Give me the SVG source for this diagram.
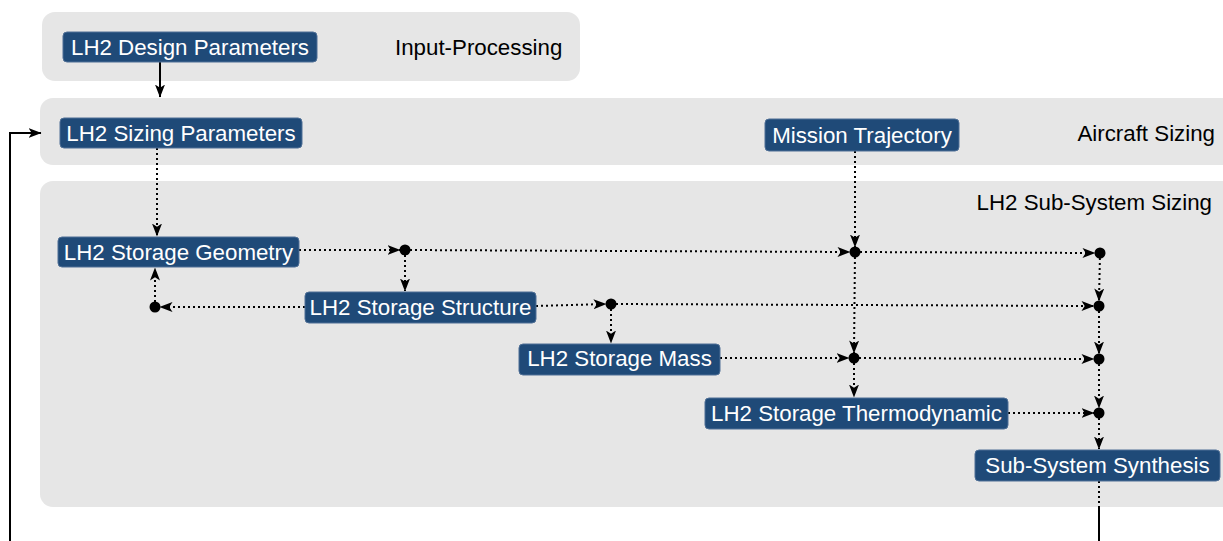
<svg xmlns="http://www.w3.org/2000/svg" width="1223" height="541" viewBox="0 0 1223 541">
<defs>
<style>
.cont{fill:#e6e6e6;}
.node{fill:#1f4a78;stroke:#4f6f96;stroke-width:1;}
.nt{font-family:"Liberation Sans",Arial,sans-serif;font-size:22.3px;fill:#ffffff;text-anchor:middle;dominant-baseline:central;}
.ct{font-family:"Liberation Sans",Arial,sans-serif;font-size:22.3px;fill:#000000;dominant-baseline:central;}
.dot{stroke:#000;stroke-width:2;fill:none;stroke-dasharray:2 3;}
.sol{stroke:#000;stroke-width:2;fill:none;}
.jn{fill:#000;}
</style>
<marker id="ah" viewBox="0 0 13 11" refX="12.5" refY="5.5" markerWidth="13" markerHeight="11" markerUnits="userSpaceOnUse" orient="auto">
<path d="M0,0.5 L13,5.5 L0,10.5 L3.2,5.5 Z" fill="#000"/>
</marker>
</defs>
<g id="containers">
<g id="input-processing"><rect class="cont" x="42" y="12" width="538" height="69" rx="13"/><text class="ct" x="395" y="47">Input-Processing</text></g>
<g id="aircraft-sizing"><rect class="cont" x="40" y="98" width="1200" height="67" rx="13"/><text class="ct" x="1215" y="133" text-anchor="end">Aircraft Sizing</text></g>
<g id="subsystem-sizing"><rect class="cont" x="40" y="181" width="1200" height="326" rx="13"/><text class="ct" x="1212" y="202" text-anchor="end">LH2 Sub-System Sizing</text></g>
</g>
<g id="connectors">
<path class="sol" d="M160,62 V97" marker-end="url(#ah)"/>
<path class="sol" d="M1099,507 V560 H10 V133 H41" marker-end="url(#ah)"/>
<path class="dot" d="M1099,481 V507"/>
<path class="dot" d="M157,148 V236" marker-end="url(#ah)"/>
<path class="dot" d="M299,250 H400" marker-end="url(#ah)"/>
<path class="dot" d="M405,250 L850,252" marker-end="url(#ah)"/>
<path class="dot" d="M855,252 L1095,253" marker-end="url(#ah)"/>
<path class="dot" d="M855,151 V247" marker-end="url(#ah)"/>
<path class="dot" d="M405,250 V291" marker-end="url(#ah)"/>
<path class="dot" d="M305,307 H160" marker-end="url(#ah)"/>
<path class="dot" d="M155,307 V268" marker-end="url(#ah)"/>
<path class="dot" d="M536,306 L606,304" marker-end="url(#ah)"/>
<path class="dot" d="M611,304 L1094,306" marker-end="url(#ah)"/>
<path class="dot" d="M611,304 V343" marker-end="url(#ah)"/>
<path class="dot" d="M1100,253 L1099,301" marker-end="url(#ah)"/>
<path class="dot" d="M855,252 L854,353" marker-end="url(#ah)"/>
<path class="dot" d="M720,358 H849" marker-end="url(#ah)"/>
<path class="dot" d="M854,358 L1094,359" marker-end="url(#ah)"/>
<path class="dot" d="M854,358 V397" marker-end="url(#ah)"/>
<path class="dot" d="M1099,306 V354" marker-end="url(#ah)"/>
<path class="dot" d="M1099,359 V408" marker-end="url(#ah)"/>
<path class="dot" d="M1008,413 H1094" marker-end="url(#ah)"/>
<path class="dot" d="M1099,413 V449" marker-end="url(#ah)"/>
<circle class="jn" cx="405" cy="250" r="5.5"/>
<circle class="jn" cx="855" cy="252" r="5.5"/>
<circle class="jn" cx="1100" cy="253" r="5.5"/>
<circle class="jn" cx="155" cy="307" r="5.5"/>
<circle class="jn" cx="611" cy="304" r="5.5"/>
<circle class="jn" cx="1099" cy="306" r="5.5"/>
<circle class="jn" cx="854" cy="358" r="5.5"/>
<circle class="jn" cx="1099" cy="359" r="5.5"/>
<circle class="jn" cx="1099" cy="413" r="5.5"/>
</g>
<g id="n-design"><rect class="node" x="63" y="32" width="254" height="30" rx="4"/><text class="nt" x="190" y="47">LH2 Design Parameters</text></g>
<g id="n-sizing"><rect class="node" x="60" y="118" width="242" height="30" rx="4"/><text class="nt" x="181" y="133">LH2 Sizing Parameters</text></g>
<g id="n-mission"><rect class="node" x="765" y="119" width="194" height="32" rx="4"/><text class="nt" x="862" y="135">Mission Trajectory</text></g>
<g id="n-geometry"><rect class="node" x="58" y="237" width="241" height="30" rx="4"/><text class="nt" x="178.5" y="252">LH2 Storage Geometry</text></g>
<g id="n-structure"><rect class="node" x="305" y="292" width="231" height="31" rx="4"/><text class="nt" x="420.5" y="307.5">LH2 Storage Structure</text></g>
<g id="n-mass"><rect class="node" x="519" y="344" width="201" height="31" rx="4"/><text class="nt" x="619.5" y="358">LH2 Storage Mass</text></g>
<g id="n-thermo"><rect class="node" x="705" y="398" width="303" height="31" rx="4"/><text class="nt" x="856.5" y="413.5">LH2 Storage Thermodynamic</text></g>
<g id="n-synthesis"><rect class="node" x="975" y="450" width="245" height="31" rx="4"/><text class="nt" x="1097.5" y="465.5">Sub-System Synthesis</text></g>
</svg>
